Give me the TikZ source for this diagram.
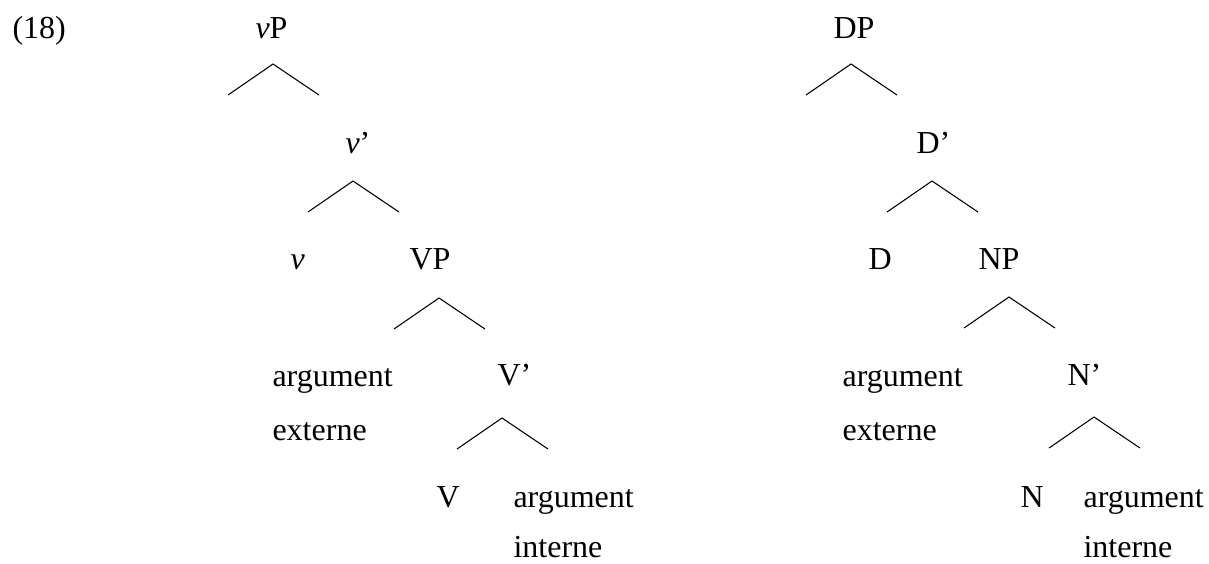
\documentclass[tikz,border=0pt]{standalone}
\usepackage{fontspec}
\setmainfont{Liberation Serif}
\begin{document}
\begin{tikzpicture}[
  x=0.375pt, y=-0.375pt,
  lbl/.style={anchor=base west, inner sep=0pt, font=\fontsize{12}{14}\selectfont},
  roof/.style={line width=0.4pt},
]
\useasboundingbox (0,0) rectangle (1209,563);
% example number
\node[lbl] (ex) at (12,38) {(18)};
% vP tree
\node[lbl] (vP) at (255,38) {\textit{v}P};
\node[lbl] (vbar) at (345,153) {\textit{v}'};
\node[lbl] (v) at (290,269) {\textit{v}};
\node[lbl] (VP) at (409,269) {VP};
\node[lbl] (extL) at (272,386) {argument};
\node[lbl] (extLb) at (272,440) {externe};
\node[lbl] (Vbar) at (497,385) {V'};
\node[lbl] (V) at (436,507) {V};
\node[lbl] (intL) at (513,507) {argument};
\node[lbl] (intLb) at (513,557) {interne};
% DP tree
\node[lbl] (DP) at (833,38) {DP};
\node[lbl] (Dbar) at (916,153) {D'};
\node[lbl] (D) at (868,269) {D};
\node[lbl] (NP) at (978,269) {NP};
\node[lbl] (extR) at (842,386) {argument};
\node[lbl] (extRb) at (842,440) {externe};
\node[lbl] (Nbar) at (1067,385) {N'};
\node[lbl] (N) at (1020,507) {N};
\node[lbl] (intR) at (1083,507) {argument};
\node[lbl] (intRb) at (1083,557) {interne};
% roof apexes
\coordinate (rvP) at (273,64);
\coordinate (rvbar) at (353,181);
\coordinate (rVP) at (439,298);
\coordinate (rVbar) at (502,418);
\coordinate (rDP) at (851,64);
\coordinate (rDbar) at (932,181);
\coordinate (rNP) at (1009,297);
\coordinate (rNbar) at (1094,417);
\foreach \r in {rvP,rvbar,rVP,rVbar,rDP,rDbar,rNP,rNbar}
  \draw[roof] (\r) ++(-45,31) -- (\r) -- ++(46,31);
\end{tikzpicture}
\end{document}
